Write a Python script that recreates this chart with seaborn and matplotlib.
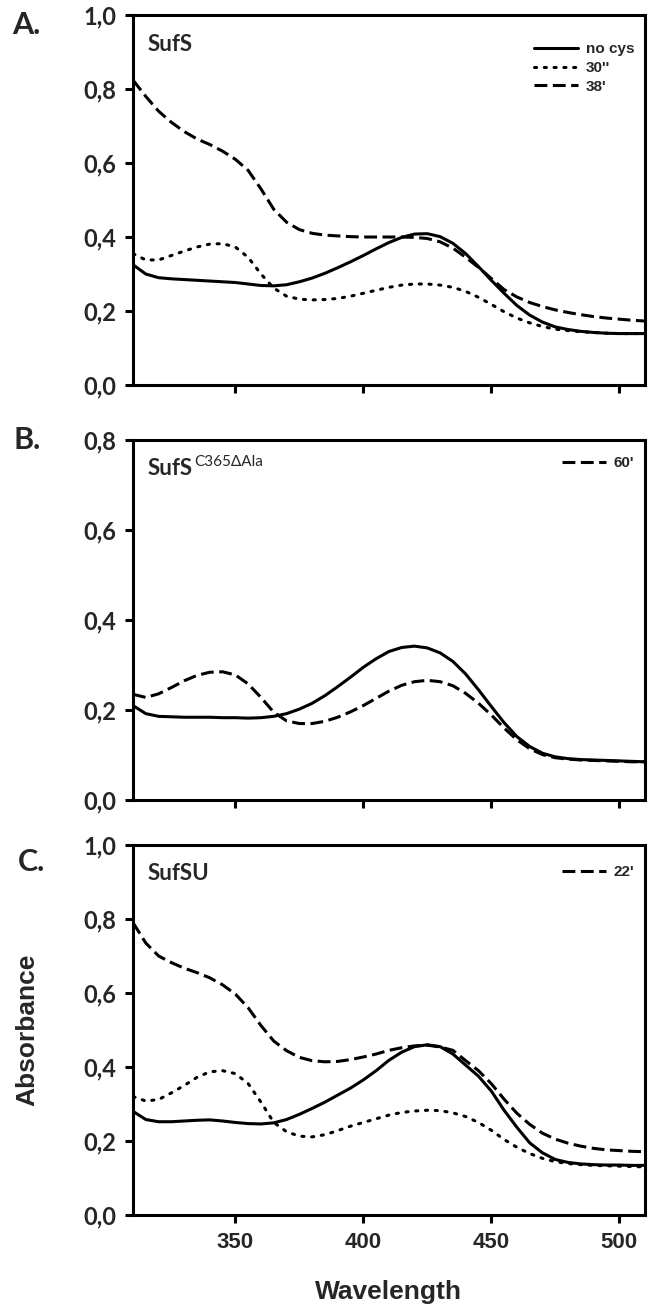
import numpy as np
import pandas as pd
import matplotlib
matplotlib.use("Agg")
import matplotlib.pyplot as plt
import seaborn as sns

# wavelength grid (nm) shared by all spectra
wavelength = list(range(310, 515, 5))

# Panel A - SufS
a_nocys = [0.325, 0.300, 0.290, 0.287, 0.285, 0.283, 0.281, 0.279, 0.277, 0.273,
           0.269, 0.268, 0.271, 0.279, 0.289, 0.302, 0.317, 0.333, 0.350, 0.368,
           0.385, 0.399, 0.408, 0.409, 0.401, 0.383, 0.355, 0.320, 0.283, 0.248,
           0.215, 0.189, 0.170, 0.157, 0.150, 0.145, 0.142, 0.140, 0.139, 0.139, 0.139]
a_30s = [0.355, 0.338, 0.338, 0.350, 0.362, 0.373, 0.381, 0.382, 0.373, 0.345,
         0.300, 0.262, 0.240, 0.232, 0.230, 0.231, 0.234, 0.240, 0.248, 0.256,
         0.264, 0.270, 0.273, 0.273, 0.270, 0.264, 0.253, 0.237, 0.218, 0.198,
         0.181, 0.168, 0.158, 0.151, 0.147, 0.144, 0.142, 0.140, 0.139, 0.139, 0.139]
a_38m = [0.824, 0.780, 0.740, 0.710, 0.685, 0.665, 0.650, 0.632, 0.610, 0.580,
         0.530, 0.475, 0.440, 0.420, 0.410, 0.405, 0.403, 0.401, 0.400, 0.400,
         0.400, 0.400, 0.399, 0.396, 0.387, 0.370, 0.345, 0.318, 0.288, 0.258,
         0.238, 0.223, 0.212, 0.203, 0.196, 0.190, 0.185, 0.181, 0.178, 0.175, 0.173]

# Panel B - SufS C365ΔAla
b_nocys = [0.210, 0.192, 0.186, 0.185, 0.184, 0.184, 0.184, 0.183, 0.183, 0.182,
           0.183, 0.186, 0.192, 0.202, 0.215, 0.232, 0.252, 0.273, 0.295, 0.314,
           0.330, 0.339, 0.342, 0.338, 0.327, 0.308, 0.280, 0.245, 0.208, 0.172,
           0.141, 0.119, 0.104, 0.096, 0.092, 0.090, 0.089, 0.088, 0.087, 0.086, 0.085]
b_60m = [0.235, 0.228, 0.236, 0.250, 0.265, 0.277, 0.284, 0.285, 0.278, 0.258,
         0.228, 0.195, 0.176, 0.170, 0.170, 0.175, 0.184, 0.196, 0.210, 0.226,
         0.242, 0.255, 0.263, 0.266, 0.263, 0.254, 0.237, 0.215, 0.189, 0.160,
         0.134, 0.114, 0.101, 0.094, 0.091, 0.089, 0.088, 0.087, 0.086, 0.085, 0.085]

# Panel C - SufSU
c_nocys = [0.280, 0.258, 0.252, 0.252, 0.254, 0.256, 0.257, 0.254, 0.250, 0.247,
           0.246, 0.249, 0.258, 0.272, 0.288, 0.305, 0.324, 0.343, 0.365, 0.390,
           0.418, 0.440, 0.455, 0.460, 0.455, 0.435, 0.405, 0.375, 0.335, 0.283,
           0.237, 0.195, 0.168, 0.150, 0.142, 0.138, 0.136, 0.135, 0.135, 0.134, 0.134]
c_30s = [0.320, 0.308, 0.312, 0.330, 0.350, 0.372, 0.387, 0.390, 0.382, 0.355,
         0.305, 0.250, 0.225, 0.213, 0.211, 0.217, 0.228, 0.240, 0.250, 0.260,
         0.270, 0.277, 0.281, 0.283, 0.282, 0.276, 0.266, 0.250, 0.229, 0.204,
         0.183, 0.166, 0.153, 0.144, 0.139, 0.136, 0.134, 0.133, 0.132, 0.131, 0.130]
c_22m = [0.790, 0.735, 0.700, 0.682, 0.667, 0.655, 0.641, 0.622, 0.597, 0.560,
         0.512, 0.470, 0.444, 0.426, 0.417, 0.414, 0.415, 0.420, 0.427, 0.435,
         0.445, 0.452, 0.457, 0.459, 0.454, 0.445, 0.417, 0.390, 0.355, 0.313,
         0.275, 0.245, 0.221, 0.205, 0.194, 0.186, 0.180, 0.176, 0.174, 0.172, 0.171]

sns.set_style("ticks")
plt.rcParams['font.family'] = ['Liberation Sans', 'DejaVu Sans']

LW = 2.2
styles = {
    'solid': dict(linestyle='-'),
    'dot': dict(linestyle=(0, (0.7, 2.5)), dash_capstyle='round'),
    'dash': dict(linestyle=(0, (4.2, 1.8))),
}

panels = [
    dict(letter="A.", title="SufS", sup=None, ymax=1.0, leg_y=0.955,
         series=[("no cys", a_nocys, 'solid', True), ("30''", a_30s, 'dot', True),
                 ("38'", a_38m, 'dash', True)],
         pos=[0.204, 0.7052, 0.785, 0.2833], letter_xy=(12, 25)),
    dict(letter="B.", title="SufS", sup="C365ΔAla", ymax=0.8, leg_y=0.985,
         series=[("no cys", b_nocys, 'solid', False), ("60'", b_60m, 'dash', True)],
         pos=[0.204, 0.3874, 0.785, 0.2757], letter_xy=(14, 440)),
    dict(letter="C.", title="SufSU", sup=None, ymax=1.0, leg_y=0.975,
         series=[("no cys", c_nocys, 'solid', False), ("30''", c_30s, 'dot', False),
                 ("22'", c_22m, 'dash', True)],
         pos=[0.204, 0.0697, 0.785, 0.2833], letter_xy=(18, 862)),
]

fig = plt.figure(figsize=(6.52, 13.06), dpi=100)

for i, p in enumerate(panels):
    ax = fig.add_axes(p['pos'])
    handles = []
    for label, vals, st, in_legend in p['series']:
        df = pd.DataFrame({'wavelength': wavelength, 'absorbance': vals})
        sns.lineplot(data=df, x='wavelength', y='absorbance', ax=ax, color='black',
                     lw=LW, **styles[st])
        line = ax.get_lines()[-1]
        line.set_label(label)
        if in_legend:
            handles.append(line)

    ax.set_xlim(310, 510)
    ax.set_ylim(0, p['ymax'])
    yt = np.round(np.arange(0, p['ymax'] + 0.01, 0.2), 1)
    ax.set_yticks(yt)
    ax.set_yticklabels([f"{v:.1f}".replace('.', ',') for v in yt],
                       family=['Lato', 'DejaVu Sans'], fontweight='bold', fontsize=17)
    ax.set_xticks([350, 400, 450, 500])
    if i == 2:
        ax.set_xticklabels(['350', '400', '450', '500'], fontweight='bold', fontsize=16)
        ax.set_xlabel("Wavelength", fontsize=19, fontweight='bold', labelpad=20)
        ax.set_ylabel("Absorbance", fontsize=19, fontweight='bold', labelpad=32)
    else:
        ax.set_xticklabels([])
        ax.set_xlabel("")
        ax.set_ylabel("")

    for s in ax.spines.values():
        s.set_visible(True)
        s.set_linewidth(LW)
        s.set_color('black')
    ax.tick_params(axis='both', direction='out', length=6, width=LW, color='black', pad=6)

    t = ax.text(0.028, 0.95, p['title'], transform=ax.transAxes, va='top', ha='left',
                family=['Lato', 'DejaVu Sans'], fontweight='bold', fontsize=16)
    if p['sup']:
        ax.annotate(p['sup'], xy=(1, 1), xycoords=t, xytext=(1, 2), textcoords='offset points',
                    va='top', ha='left', family=['Lato', 'DejaVu Sans'], fontsize=11)

    ax.legend(handles=handles, loc='upper right', bbox_to_anchor=(1.0, p['leg_y']), frameon=False,
              prop=dict(family='Liberation Sans', weight='bold', size=11),
              handlelength=2.9, handletextpad=0.5, labelspacing=0.3, borderaxespad=0.3)

    fig.text(p['letter_xy'][0] / 652, 1 - p['letter_xy'][1] / 1306, p['letter'],
             family=['Lato', 'DejaVu Sans'], fontweight='bold', fontsize=22,
             ha='left', va='center')

fig.savefig("out.png", dpi=100)
